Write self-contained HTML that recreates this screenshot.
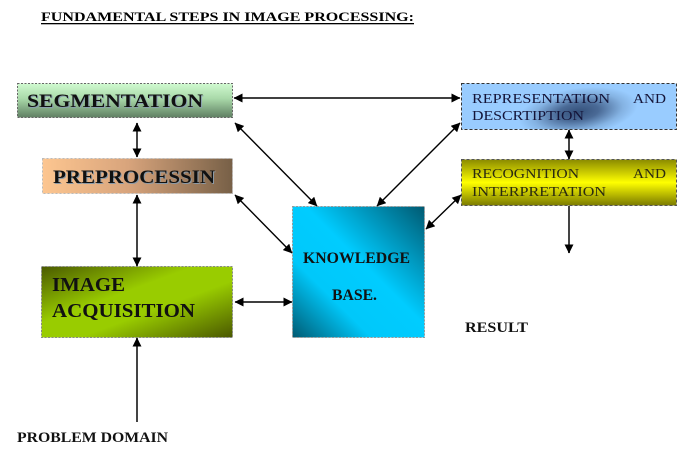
<!DOCTYPE html>
<html><head><meta charset="utf-8"><style>
html,body{margin:0;padding:0;background:#fff;}
svg{display:block;}
text{font-family:"Liberation Serif","Times New Roman",serif;}
</style></head><body>
<svg width="691" height="462" viewBox="0 0 691 462" xmlns="http://www.w3.org/2000/svg">
<defs>
<linearGradient id="gSeg" x1="0" y1="0" x2="0" y2="1">
<stop offset="0" stop-color="#d0fad0"/><stop offset="0.45" stop-color="#a8d8a8"/><stop offset="1" stop-color="#5f7f62"/>
</linearGradient>
<linearGradient id="gPre" x1="0" y1="0" x2="1" y2="0">
<stop offset="0" stop-color="#fdc690"/><stop offset="0.45" stop-color="#d8a47c"/><stop offset="1" stop-color="#776047"/>
</linearGradient>
<linearGradient id="gImg" x1="0" y1="0" x2="1" y2="1">
<stop offset="0" stop-color="#4a5a00"/><stop offset="0.4" stop-color="#99cc00"/><stop offset="0.6" stop-color="#99cc00"/><stop offset="1" stop-color="#4a5800"/>
</linearGradient>
<linearGradient id="gKb" x1="0" y1="1" x2="1" y2="0">
<stop offset="0" stop-color="#005a72"/><stop offset="0.3" stop-color="#00c8fa"/><stop offset="0.55" stop-color="#00ccff"/><stop offset="1" stop-color="#005a72"/>
</linearGradient>
<radialGradient id="gRep" gradientUnits="userSpaceOnUse" cx="578" cy="112" r="60" gradientTransform="translate(578 112) rotate(-8) scale(1 0.4) translate(-578 -112)">
<stop offset="0" stop-color="#34507a"/><stop offset="0.35" stop-color="#4a6a96"/><stop offset="0.75" stop-color="#84b2e2"/><stop offset="1" stop-color="#99ccff"/>
</radialGradient>
<linearGradient id="gRec" x1="0" y1="0" x2="0" y2="1">
<stop offset="0" stop-color="#8a8a00"/><stop offset="0.5" stop-color="#ffff00"/><stop offset="1" stop-color="#7a7a00"/>
</linearGradient>
<marker id="ah" viewBox="0 0 10 10" refX="9.5" refY="5" markerWidth="9" markerHeight="9" markerUnits="userSpaceOnUse" orient="auto-start-reverse">
<path d="M0,0 L10,5 L0,10 z" fill="#000"/>
</marker>
</defs>

<!-- Title -->
<text x="41" y="21" font-size="13" font-weight="bold" fill="#000" textLength="373" lengthAdjust="spacingAndGlyphs">FUNDAMENTAL STEPS IN IMAGE PROCESSING:</text>
<rect x="41" y="23" width="373" height="1.3" fill="#000"/>

<!-- Boxes -->
<rect x="17.5" y="83.5" width="215" height="34" fill="url(#gSeg)" stroke="#666" stroke-width="1" stroke-dasharray="2 1.5"/>
<rect x="42.5" y="158.5" width="190" height="35" fill="url(#gPre)" stroke="#bbb" stroke-width="1" stroke-dasharray="2 2"/>
<rect x="41.5" y="266.5" width="191" height="71" fill="url(#gImg)" stroke="#888" stroke-width="1" stroke-dasharray="2 1.5"/>
<rect x="292.5" y="206.5" width="132" height="131" fill="url(#gKb)" stroke="#999" stroke-width="1" stroke-dasharray="2 1.5"/>
<rect x="461.5" y="83.5" width="215" height="46" fill="url(#gRep)" stroke="#333" stroke-width="1" stroke-dasharray="3 2"/>
<rect x="461.5" y="159.5" width="215" height="46" fill="url(#gRec)" stroke="#555" stroke-width="1" stroke-dasharray="3 2"/>

<!-- Box text -->
<text x="28" y="108" font-size="19" font-weight="bold" fill="#8aa0b0" textLength="176" lengthAdjust="spacingAndGlyphs">SEGMENTATION</text>
<text x="27" y="107" font-size="19" font-weight="bold" fill="#111" textLength="176" lengthAdjust="spacingAndGlyphs">SEGMENTATION</text>
<text x="54" y="184" font-size="19" font-weight="bold" fill="#8a9aa8" textLength="162" lengthAdjust="spacingAndGlyphs">PREPROCESSIN</text>
<text x="53" y="183" font-size="19" font-weight="bold" fill="#111" textLength="162" lengthAdjust="spacingAndGlyphs">PREPROCESSIN</text>
<text x="52" y="291" font-size="20" font-weight="bold" fill="#111" textLength="73" lengthAdjust="spacingAndGlyphs">IMAGE</text>
<text x="52" y="317" font-size="20" font-weight="bold" fill="#111" textLength="143" lengthAdjust="spacingAndGlyphs">ACQUISITION</text>
<text x="303" y="263" font-size="15.5" font-weight="bold" fill="#111" textLength="107" lengthAdjust="spacingAndGlyphs">KNOWLEDGE</text>
<text x="332" y="300" font-size="15.5" font-weight="bold" fill="#111" textLength="45" lengthAdjust="spacingAndGlyphs">BASE.</text>
<text x="472" y="103" font-size="14" fill="#141438" textLength="138" lengthAdjust="spacingAndGlyphs">REPRESENTATION</text>
<text x="633" y="103" font-size="14" fill="#141438" textLength="33" lengthAdjust="spacingAndGlyphs">AND</text>
<text x="472" y="120" font-size="14" fill="#141438" textLength="112" lengthAdjust="spacingAndGlyphs">DESCRTIPTION</text>
<text x="472" y="178" font-size="14" fill="#2a2a10" textLength="107" lengthAdjust="spacingAndGlyphs">RECOGNITION</text>
<text x="633" y="178" font-size="14" fill="#2a2a10" textLength="33" lengthAdjust="spacingAndGlyphs">AND</text>
<text x="472" y="196" font-size="14" fill="#2a2a10" textLength="134" lengthAdjust="spacingAndGlyphs">INTERPRETATION</text>

<!-- Labels -->
<text x="465" y="332" font-size="14.5" font-weight="bold" fill="#111" textLength="63" lengthAdjust="spacingAndGlyphs">RESULT</text>
<text x="17" y="442" font-size="14.5" font-weight="bold" fill="#111" textLength="151" lengthAdjust="spacingAndGlyphs">PROBLEM DOMAIN</text>

<!-- Arrows -->
<g stroke="#000" stroke-width="1.4" fill="none">
<line x1="234" y1="98" x2="460" y2="98" marker-start="url(#ah)" marker-end="url(#ah)"/>
<line x1="235" y1="123" x2="317" y2="206" marker-start="url(#ah)" marker-end="url(#ah)"/>
<line x1="460" y1="123" x2="377" y2="206" marker-start="url(#ah)" marker-end="url(#ah)"/>
<line x1="235" y1="195" x2="292" y2="253" marker-start="url(#ah)" marker-end="url(#ah)"/>
<line x1="461" y1="195" x2="426" y2="229" marker-start="url(#ah)" marker-end="url(#ah)"/>
<line x1="235" y1="302" x2="292" y2="302" marker-start="url(#ah)" marker-end="url(#ah)"/>
</g>
<g stroke="#444" stroke-width="2" fill="none">
<line x1="137" y1="123" x2="137" y2="157" marker-start="url(#ah)" marker-end="url(#ah)"/>
<line x1="137" y1="195" x2="137" y2="266" marker-start="url(#ah)" marker-end="url(#ah)"/>
<line x1="137" y1="422" x2="137" y2="338" marker-end="url(#ah)"/>
<line x1="569" y1="130" x2="569" y2="159" marker-start="url(#ah)" marker-end="url(#ah)"/>
<line x1="569" y1="206" x2="569" y2="253" marker-end="url(#ah)"/>
</g>
</svg>
</body></html>
